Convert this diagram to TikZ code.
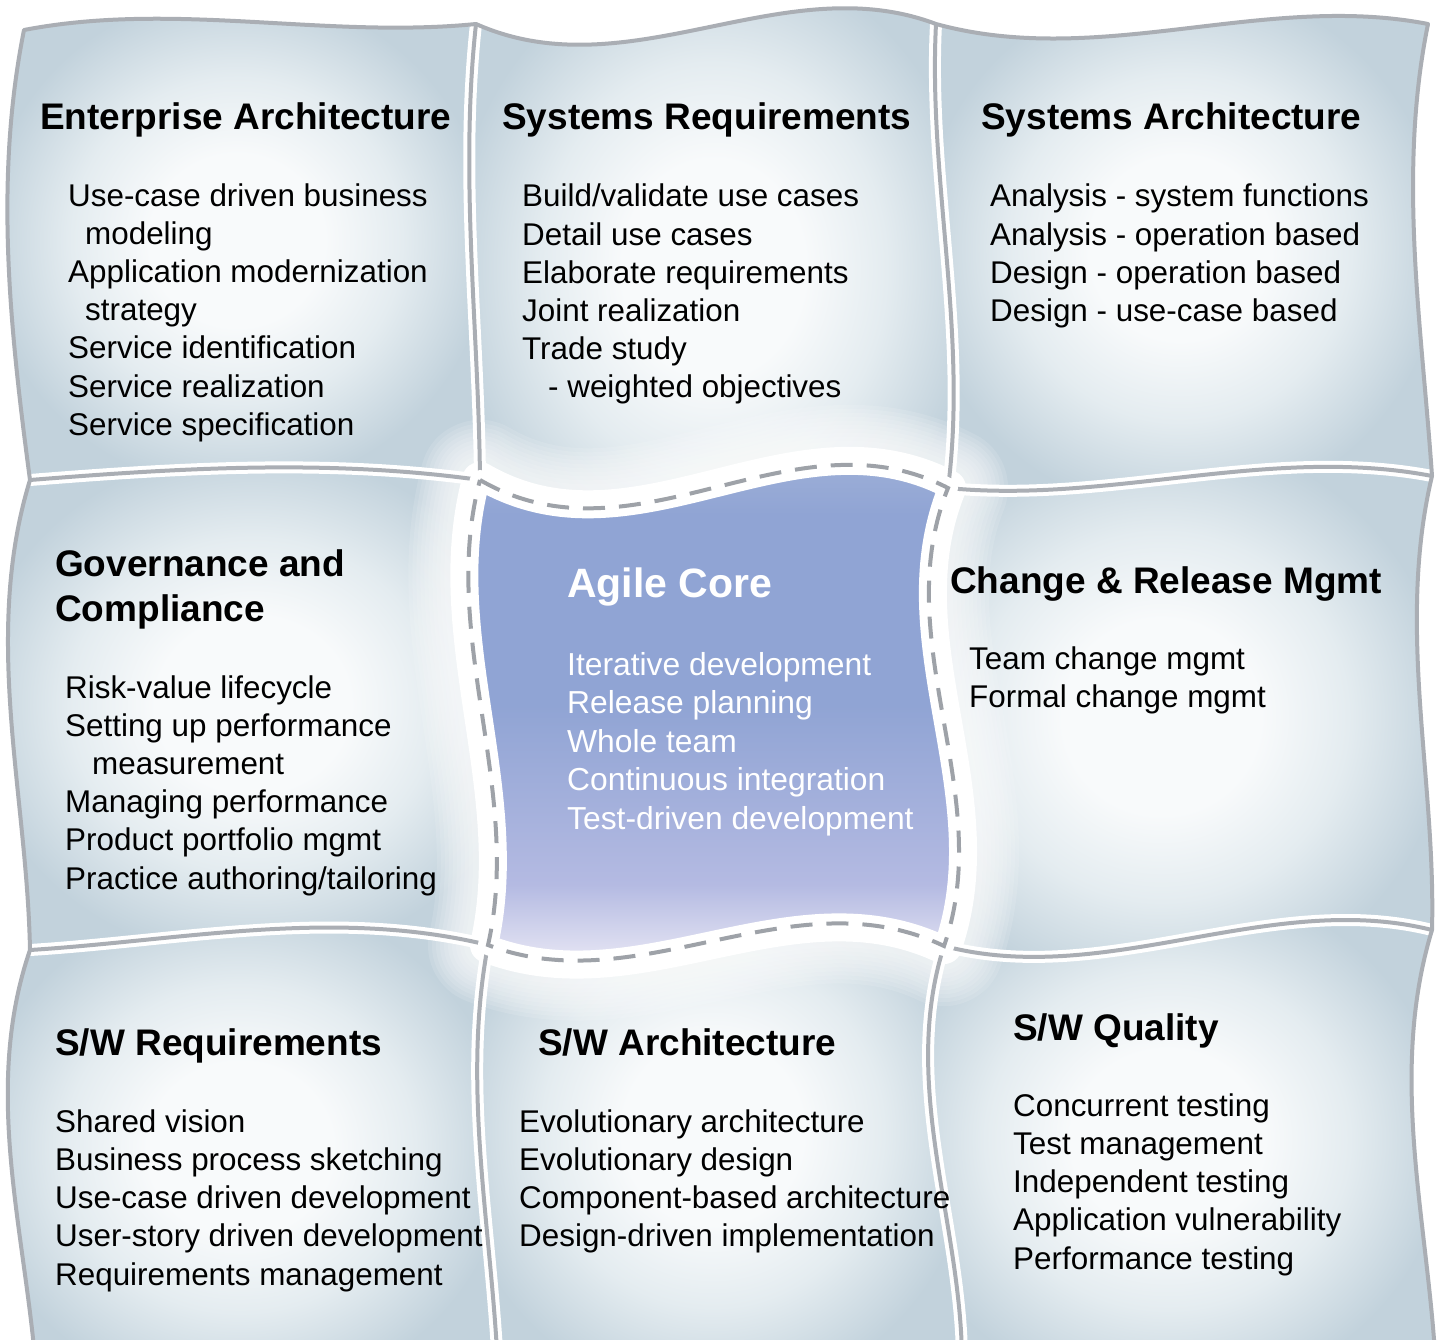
\documentclass[tikz,border=0pt]{standalone}
\usepackage{fontspec}
\setmainfont{Liberation Sans}
\usetikzlibrary{calc}
\definecolor{tilec}{RGB}{248,250,251}
\definecolor{tilem}{RGB}{228,236,240}
\definecolor{tilee}{RGB}{194,210,220}
\definecolor{sepgray}{RGB}{170,174,180}
\definecolor{dashgray}{RGB}{158,162,168}
\definecolor{agtop}{RGB}{170,186,218}
\definecolor{agmid}{RGB}{144,164,212}
\definecolor{aglow}{RGB}{180,186,226}
\definecolor{agbot}{RGB}{242,240,248}
\pgfdeclareradialshading{tileshade}{\pgfpoint{0bp}{0bp}}{color(0bp)=(tilec); color(9bp)=(tilec); color(17bp)=(tilem); color(26bp)=(tilee); color(40bp)=(tilee)}
\pgfdeclareverticalshading{agileshade}{100bp}{color(0bp)=(agbot); color(27bp)=(agbot); color(35bp)=(aglow); color(50bp)=(agmid); color(66bp)=(agmid); color(75bp)=(agtop); color(100bp)=(agtop)}
\newcommand\HSeg[4]{.. controls ($(#1)!0.3333!(#2)+(0,#3)$) and ($(#1)!0.6667!(#2)+(0,#4)$) .. (#2)}
\newcommand\HSegR[4]{.. controls ($(#1)!0.6667!(#2)+(0,#4)$) and ($(#1)!0.3333!(#2)+(0,#3)$) .. (#1)}
\newcommand\VSeg[4]{.. controls ($(#1)!0.3333!(#2)+(#3,0)$) and ($(#1)!0.6667!(#2)+(#4,0)$) .. (#2)}
\newcommand\VSegR[4]{.. controls ($(#1)!0.6667!(#2)+(#4,0)$) and ($(#1)!0.3333!(#2)+(#3,0)$) .. (#1)}
% horizontal edges
\def\eHAa{\HSeg{A0}{A1}{-27}{13}}\def\eHAar{\HSegR{A0}{A1}{-27}{13}}
\def\eHAb{\HSeg{A1}{A2}{68}{-58}}\def\eHAbr{\HSegR{A1}{A2}{68}{-58}}
\def\eHAc{\HSeg{A2}{A3}{45}{-32}}\def\eHAcr{\HSegR{A2}{A3}{45}{-32}}
\def\eHBa{\HSeg{B0}{B1}{-12}{-21}}\def\eHBar{\HSegR{B0}{B1}{-12}{-21}}
\def\eHBb{\HSeg{B1}{B2}{88}{-78}}\def\eHBbr{\HSegR{B1}{B2}{88}{-78}}
\def\eHBc{\HSeg{B2}{B3}{20}{-35}}\def\eHBcr{\HSegR{B2}{B3}{20}{-35}}
\def\eHCa{\HSeg{C0}{C1}{-8}{-39}}\def\eHCar{\HSegR{C0}{C1}{-8}{-39}}
\def\eHCb{\HSeg{C1}{C2}{58}{-72}}\def\eHCbr{\HSegR{C1}{C2}{58}{-72}}
\def\eHCc{\HSeg{C2}{C3}{48}{-46}}\def\eHCcr{\HSegR{C2}{C3}{48}{-46}}
\def\eHDa{\HSeg{D0}{D1}{20}{-20}}\def\eHDar{\HSegR{D0}{D1}{20}{-20}}
\def\eHDb{\HSeg{D1}{D2}{20}{-20}}\def\eHDbr{\HSegR{D1}{D2}{20}{-20}}
\def\eHDc{\HSeg{D2}{D3}{20}{-20}}\def\eHDcr{\HSegR{D2}{D3}{20}{-20}}
% vertical edges
\def\eVPa{\VSeg{A0}{B0}{-32}{-18}}\def\eVPar{\VSegR{A0}{B0}{-32}{-18}}
\def\eVPb{\VSeg{A1}{B1}{-18}{0}}\def\eVPbr{\VSegR{A1}{B1}{-18}{0}}
\def\eVPc{\VSeg{A2}{B2}{-12}{24}}\def\eVPcr{\VSegR{A2}{B2}{-12}{24}}
\def\eVPd{\VSeg{A3}{B3}{-32}{-9}}\def\eVPdr{\VSegR{A3}{B3}{-32}{-9}}
\def\eVQa{\VSeg{B0}{C0}{-48}{-3}}\def\eVQar{\VSegR{B0}{C0}{-48}{-3}}
\def\eVQb{\VSeg{B1}{C1}{-44}{38}}\def\eVQbr{\VSegR{B1}{C1}{-44}{38}}
\def\eVQc{\VSeg{B2}{C2}{-60}{52}}\def\eVQcr{\VSegR{B2}{C2}{-60}{52}}
\def\eVQd{\VSeg{B3}{C3}{-36}{4}}\def\eVQdr{\VSegR{B3}{C3}{-36}{4}}
\def\eVRa{\VSeg{C0}{D0}{-50}{-9}}\def\eVRar{\VSegR{C0}{D0}{-50}{-9}}
\def\eVRb{\VSeg{C1}{D1}{-30}{-3}}\def\eVRbr{\VSegR{C1}{D1}{-30}{-3}}
\def\eVRc{\VSeg{C2}{D2}{-51}{8}}\def\eVRcr{\VSegR{C2}{D2}{-51}{8}}
\def\eVRd{\VSeg{C3}{D3}{-46}{-6}}\def\eVRdr{\VSegR{C3}{D3}{-46}{-6}}
\def\agilepath{(B1) \eHBb \eVQc \eHCbr \eVQbr -- cycle}
\tikzset{
  ttl/.style={font=\bfseries\fontsize{37}{44}\selectfont, anchor=base west, inner sep=0pt},
  txt/.style={font=\fontsize{31.4}{38}\selectfont, anchor=base west, inner sep=0pt},
  tilefill/.style={shading=tileshade},
  sephalo/.style={draw=white, line width=12pt},
  sepline/.style={draw=sepgray, line width=4pt},
  rim/.style={draw=sepgray, line width=4pt, line join=round},
  agdash/.style={draw=dashgray, line width=4pt, dash pattern=on 22pt off 14pt},
}
\begin{document}
\begin{tikzpicture}[x=1pt, y=-1pt]
\useasboundingbox (0,0) rectangle (1441,1340);
\fill[white] (0,0) rectangle (1441,1340);
\coordinate (A0) at (24,30);  \coordinate (A1) at (476,24);  \coordinate (A2) at (936,24);  \coordinate (A3) at (1428,24);
\coordinate (B0) at (30,480); \coordinate (B1) at (480,480); \coordinate (B2) at (948,488); \coordinate (B3) at (1432,476);
\coordinate (C0) at (30,950); \coordinate (C1) at (488,945); \coordinate (C2) at (944,946); \coordinate (C3) at (1432,930);
\coordinate (D0) at (36,1370); \coordinate (D1) at (498,1370); \coordinate (D2) at (962,1370); \coordinate (D3) at (1436,1370);
% tiles
\shade[tilefill] (A0) \eHAa \eVPb \eHBar \eVPar -- cycle;
\shade[tilefill] (A1) \eHAb \eVPc \eHBbr \eVPbr -- cycle;
\shade[tilefill] (A2) \eHAc \eVPd \eHBcr \eVPcr -- cycle;
\shade[tilefill] (B0) \eHBa \eVQb \eHCar \eVQar -- cycle;
\shade[tilefill] (B2) \eHBc \eVQd \eHCcr \eVQcr -- cycle;
\shade[tilefill] (C0) \eHCa \eVRb \eHDar \eVRar -- cycle;
\shade[tilefill] (C1) \eHCb \eVRc \eHDbr \eVRbr -- cycle;
\shade[tilefill] (C2) \eHCc \eVRd \eHDcr \eVRcr -- cycle;
% soft white fade around the agile core
\foreach \w in {120,112,104,96,88,80,72,64,56,48}
  \path[draw=white, line width=\w pt, draw opacity=0.12, line join=round] \agilepath;
\path[draw=white, fill=white, line width=36pt, line join=round] \agilepath;
% separators
\foreach \st in {sephalo, sepline}{
  \path[\st] (B0) \eHBa;  \path[\st] (B2) \eHBc;
  \path[\st] (C0) \eHCa;  \path[\st] (C2) \eHCc;
  \path[\st] (A1) \eVPb;  \path[\st] (C1) \eVRb;
  \path[\st] (A2) \eVPc;  \path[\st] (C2) \eVRc;
}
\path[rim] (D0) \eVRar \eVQar \eVPar \eHAa \eHAb \eHAc \eVPd \eVQd \eVRd;
% agile core
\shade[shading=agileshade] \agilepath;
\path[draw=white, line width=20pt, line join=round] \agilepath;
\path[agdash] \agilepath;
% texts
\node[ttl] (eaT) at (40,130) {Enterprise Architecture};
\foreach \t [count=\i] in {{Use-case driven business},{\hspace*{17pt}modeling},{Application modernization},{\hspace*{17pt}strategy},{Service identification},{Service realization},{Service specification}}
  \node[txt] (ea\i) at (68,{207+38*(\i-1)}) {\t};
\node[ttl] (srT) at (502,130) {Systems Requirements};
\foreach \t [count=\i] in {{Build/validate use cases},{Detail use cases},{Elaborate requirements},{Joint realization},{Trade study},{\hspace*{26pt}- weighted objectives}}
  \node[txt] (sr\i) at (522,{207+38.2*(\i-1)}) {\t};
\node[ttl] (saT) at (981,130) {Systems Architecture};
\foreach \t [count=\i] in {{Analysis - system functions},{Analysis - operation based},{Design - operation based},{Design - use-case based}}
  \node[txt] (sa\i) at (990,{207+38.2*(\i-1)}) {\t};
\node[ttl] (gcT1) at (55,576) {Governance and};
\node[ttl] (gcT2) at (55,621) {Compliance};
\foreach \t [count=\i] in {{Risk-value lifecycle},{Setting up performance},{\hspace*{27pt}measurement},{Managing performance},{Product portfolio mgmt},{Practice authoring/tailoring}}
  \node[txt] (gc\i) at (65,{698+38.2*(\i-1)}) {\t};
\node[ttl, text=white, font=\bfseries\fontsize{41}{46}\selectfont] (acT) at (567,597) {Agile Core};
\foreach \t [count=\i] in {{Iterative development},{Release planning},{Whole team},{Continuous integration},{Test-driven development}}
  \node[txt, text=white, font=\fontsize{31.8}{38}\selectfont] (ac\i) at (567,{675+38.5*(\i-1)}) {\t};
\node[ttl] (crT) at (950,593) {Change \& Release Mgmt};
\foreach \t [count=\i] in {{Team change mgmt},{Formal change mgmt}}
  \node[txt] (cr\i) at (969,{669+38*(\i-1)}) {\t};
\node[ttl] (swrT) at (55,1055) {S/W Requirements};
\foreach \t [count=\i] in {{Shared vision},{Business process sketching},{Use-case driven development},{User-story driven development},{Requirements management}}
  \node[txt] (swr\i) at (55,{1132+38.3*(\i-1)}) {\t};
\node[ttl] (swaT) at (538,1055) {S/W Architecture};
\foreach \t [count=\i] in {{Evolutionary architecture},{Evolutionary design},{Component-based architecture},{Design-driven implementation}}
  \node[txt] (swa\i) at (519,{1132+38.3*(\i-1)}) {\t};
\node[ttl] (swqT) at (1013,1040) {S/W Quality};
\foreach \t [count=\i] in {{Concurrent testing},{Test management},{Independent testing},{Application vulnerability},{Performance testing}}
  \node[txt] (swq\i) at (1013,{1116+38.3*(\i-1)}) {\t};
\end{tikzpicture}
\end{document}
